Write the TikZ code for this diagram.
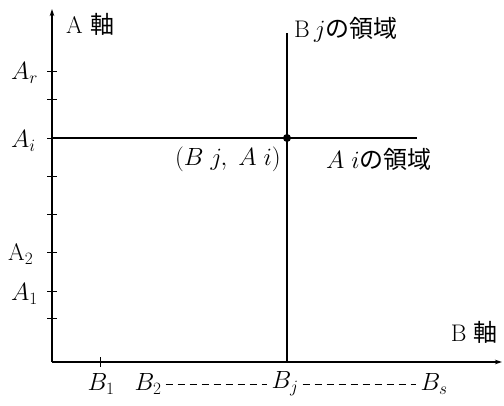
\documentclass[tikz,border=0pt]{standalone}
\usepackage{fontspec}
\newfontfamily\jp{Noto Sans CJK JP}
\usepackage{tikz}
\usetikzlibrary{arrows.meta}

\tikzset{
  axisline/.style={line width=1.1pt, -{Stealth[length=7pt,width=4.5pt]}},
  tickmark/.style={line width=0.9pt},
  region/.style={line width=1.2pt},
  lbl/.style={inner sep=0pt, font=\fontsize{24}{28}\selectfont},
}

\begin{document}
\begin{tikzpicture}[x=1pt,y=-1pt]
    \useasboundingbox (0,0) rectangle (504,405);

    % Axes
    \coordinate (O) at (52,362);
    \coordinate (atop) at (52,9);
    \coordinate (bend) at (502,362);
    \draw[axisline] (O) -- (atop);
    \draw[axisline] (O) -- (bend);

    % Ticks
    \foreach \y in {71,99,138,176,214,252,291,318}
        \draw[tickmark] (47,\y) -- (57,\y);
    \draw[tickmark] (100,357) -- (100,367);

    % Regions of Ai and Bj
    \coordinate (ai) at (52,138);
    \coordinate (aiend) at (417,138);
    \coordinate (bj) at (287,362);
    \coordinate (bjtop) at (287,33);
    \coordinate (p) at (287,138);
    \draw[region] (ai) -- (aiend);
    \draw[region] (bj) -- (bjtop);
    \fill (p) circle (4);

    % Labels
    \node[lbl, anchor=west] (alabel) at (66,24) {A {\jp 軸}};
    \node[lbl, anchor=west] (bjlabel) at (294,30) {B$\,j${\jp の領域}};
    \node[lbl, anchor=east] (pt) at (281,159) {$(B\;j,\;A\;i)$};
    \node[lbl, anchor=west] (ailabel) at (326,159) {$A\;i${\jp の領域}};
    \node[lbl, anchor=east] (blabel) at (498,332) {B {\jp 軸}};

    \node[lbl, anchor=west] (ar) at (11,73) {$A_r$};
    \node[lbl, anchor=west] (aii) at (11,141) {$A_i$};
    \node[lbl, anchor=west] (a2) at (8,254) {$\mathrm{A}_2$};
    \node[lbl, anchor=west] (a1) at (11,294) {$A_1$};

    \node[lbl] (b1) at (101,384) {$B_1$};
    \node[lbl] (b2) at (148,384) {$B_2$};
    \node[lbl] (bjb) at (285,384) {$B_j$};
    \node[lbl] (bs) at (434,384) {$B_s$};
    \draw[dash pattern=on 7pt off 5pt, line width=0.8pt] (b2.east) ++(4,0) -- ([xshift=-4pt]bjb.west);
    \draw[dash pattern=on 7pt off 5pt, line width=0.8pt] (bjb.east) ++(4,0) -- ([xshift=-4pt]bs.west);
\end{tikzpicture}
\end{document}
